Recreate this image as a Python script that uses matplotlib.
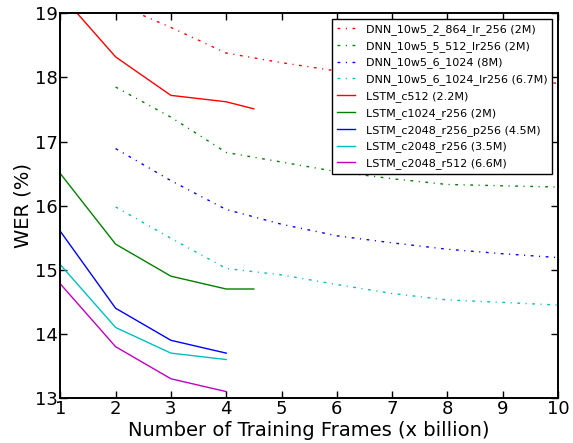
import matplotlib
matplotlib.use("Agg")
import matplotlib.pyplot as plt

# DNN baselines (dash-dot)
dnn_x = [2, 3, 4, 5, 6, 7, 8, 9, 10]
dnn_2_864_lr256 = [19.15, 18.78, 18.38, 18.23, 18.10, 18.02, 17.97, 17.94, 17.91]
dnn_5_512_lr256 = [17.85, 17.38, 16.83, 16.68, 16.53, 16.42, 16.33, 16.31, 16.29]
dnn_6_1024 = [16.89, 16.39, 15.94, 15.71, 15.53, 15.42, 15.32, 15.25, 15.19]
dnn_6_1024_lr256 = [15.98, 15.49, 15.02, 14.92, 14.77, 14.63, 14.53, 14.49, 14.45]

# LSTM models (solid)
lstm_x = [1, 2, 3, 4]
lstm_c512_x = [1, 2, 3, 4, 4.5]
lstm_c512 = [19.3, 18.32, 17.72, 17.62, 17.51]
lstm_c1024_x = [1, 2, 3, 4, 4.5]
lstm_c1024_r256 = [16.5, 15.4, 14.9, 14.7, 14.7]
lstm_c2048_r256_p256 = [15.6, 14.4, 13.9, 13.7]
lstm_c2048_r256 = [15.08, 14.1, 13.7, 13.6]
lstm_c2048_r512 = [14.78, 13.8, 13.3, 13.1]

labels = [
    "DNN_10w5_2_864_lr_256 (2M)",
    "DNN_10w5_5_512_lr256 (2M)",
    "DNN_10w5_6_1024 (8M)",
    "DNN_10w5_6_1024_lr256 (6.7M)",
    "LSTM_c512 (2.2M)",
    "LSTM_c1024_r256 (2M)",
    "LSTM_c2048_r256_p256 (4.5M)",
    "LSTM_c2048_r256 (3.5M)",
    "LSTM_c2048_r512 (6.6M)",
]
xticks = list(range(1, 11))
yticks = list(range(13, 20))

RED = (1, 0, 0)
GREEN = (0, 0.5, 0)
BLUE = (0, 0, 1)
CYAN = (0, 0.75, 0.75)
MAG = (0.75, 0, 0.75)

fig = plt.figure(figsize=(5.73, 4.43), dpi=100)
ax = fig.add_axes([60.3 / 573, 1 - 398 / 443, (558 - 60.3) / 573, (398 - 13.3) / 443])

dd = (2, 4, 0.8, 4)
for ys, c, lab in [(dnn_2_864_lr256, RED, labels[0]),
                   (dnn_5_512_lr256, GREEN, labels[1]),
                   (dnn_6_1024, BLUE, labels[2]),
                   (dnn_6_1024_lr256, CYAN, labels[3])]:
    ax.plot(dnn_x, ys, color=c, lw=1.0, dashes=dd, label=lab)

ax.plot(lstm_c512_x, lstm_c512, color=RED, lw=1.0, label=labels[4])
ax.plot(lstm_c1024_x, lstm_c1024_r256, color=GREEN, lw=1.0, label=labels[5])
ax.plot(lstm_x, lstm_c2048_r256_p256, color=BLUE, lw=1.0, label=labels[6])
ax.plot(lstm_x, lstm_c2048_r256, color=CYAN, lw=1.0, label=labels[7])
ax.plot(lstm_x, lstm_c2048_r512, color=MAG, lw=1.0, label=labels[8])

ax.set_xlim(1, 10)
ax.set_ylim(13, 19)
ax.set_xticks(xticks)
ax.set_yticks(yticks)
ax.tick_params(direction="in", top=True, right=True, length=5, width=1, labelsize=13, pad=1.5)
for s in ax.spines.values():
    s.set_linewidth(1.4)

ax.set_xlabel("Number of Training Frames (x billion)", fontsize=14, labelpad=2)
ax.set_ylabel("WER (%)", fontsize=14, labelpad=2)

leg = ax.legend(loc="upper right", fontsize=8, handlelength=1.6, handletextpad=1.0,
                labelspacing=0.53, borderpad=0.45, fancybox=False, framealpha=1)
leg.get_frame().set_edgecolor("black")
leg.get_frame().set_linewidth(1.0)

fig.savefig("out.png", dpi=100)
